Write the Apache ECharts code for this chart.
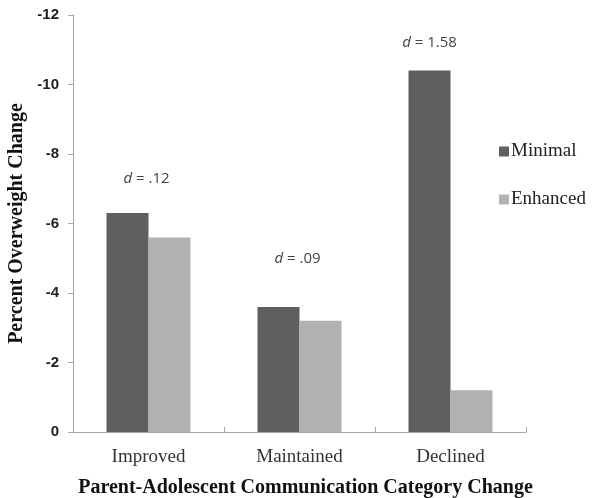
<!DOCTYPE html>
<html>
<head>
<meta charset="utf-8">
<script src="https://cdn.jsdelivr.net/npm/echarts@6/dist/echarts.min.js"></script>
<style>
html,body{margin:0;padding:0;background:#fff;}
#chart{width:593px;height:498px;}
</style>
</head>
<body>
<div id="chart"></div>
<script>
var categories = ['Improved', 'Maintained', 'Declined'];
var minimalValues = [-6.3, -3.6, -10.4];
var enhancedValues = [-5.6, -3.2, -1.2];
var effectSizes = ['.12', '.09', '1.58'];
var effectLevels = [-7.3, -5.0, -11.2];
var yTicks = {min: -12, max: 0, step: 2};

var chart = echarts.init(document.getElementById('chart'));
var serif = '"Liberation Serif", "Times New Roman", serif';
var sans = '"Open Sans", "Liberation Sans", sans-serif';

var markData = categories.map(function (c, i) {
  return {
    coord: [c, effectLevels[i]],
    label: {
      formatter: '{i|d} = ' + effectSizes[i],
      offset: [i === 2 ? 0 : 19, 0]
    }
  };
});

chart.setOption({
  animation: false,
  backgroundColor: '#fff',
  grid: {left: 73, right: 67, top: 15, bottom: 66, containLabel: false, outerBoundsMode: 'none'},
  legend: {
    orient: 'vertical',
    left: 494,
    top: 137,
    itemWidth: 10,
    itemHeight: 10,
    itemGap: 29,
    icon: 'rect',
    textStyle: {fontFamily: serif, fontSize: 19, color: '#222', padding: [0, 0, 0, -3]},
    data: ['Minimal', 'Enhanced']
  },
  xAxis: {
    type: 'category',
    data: categories,
    axisLine: {lineStyle: {color: '#a8a8a8', width: 1}},
    axisTick: {show: true, inside: true, length: 5, lineStyle: {color: '#a8a8a8'}},
    axisLabel: {fontFamily: serif, fontSize: 19, color: '#333', margin: 16},
    name: 'Parent-Adolescent Communication Category Change',
    nameLocation: 'middle',
    nameGap: 46,
    nameTextStyle: {fontFamily: serif, fontSize: 20, fontWeight: 'bold', color: '#111', padding: [0, 0, 0, 12]}
  },
  yAxis: {
    type: 'value',
    inverse: true,
    min: yTicks.min,
    max: yTicks.max,
    interval: yTicks.step,
    splitLine: {show: false},
    axisLine: {show: true, lineStyle: {color: '#a8a8a8', width: 1}},
    axisTick: {show: true, length: 5, lineStyle: {color: '#a8a8a8'}},
    axisLabel: {fontFamily: '"Liberation Sans", Arial, sans-serif', fontSize: 15, fontWeight: 'bold', color: '#222', margin: 14},
    name: 'Percent Overweight Change',
    nameLocation: 'middle',
    nameGap: 38,
    nameTextStyle: {fontFamily: serif, fontSize: 20, fontWeight: 'bold', color: '#111'}
  },
  series: [
    {
      name: 'Minimal',
      type: 'bar',
      data: minimalValues,
      barWidth: 42,
      barGap: '0%',
      itemStyle: {color: '#5f5f5f'},
      markPoint: {
        symbol: 'circle',
        symbolSize: 0,
        silent: true,
        label: {
          show: true,
          position: 'inside',
          color: '#444',
          fontFamily: sans,
          fontSize: 15,
          rich: {i: {fontStyle: 'italic', fontFamily: sans, fontSize: 15, color: '#444'}}
        },
        data: markData
      }
    },
    {
      name: 'Enhanced',
      type: 'bar',
      data: enhancedValues,
      barWidth: 42,
      barGap: '0%',
      itemStyle: {color: '#b2b2b2'}
    }
  ]
});
</script>
</body>
</html>
